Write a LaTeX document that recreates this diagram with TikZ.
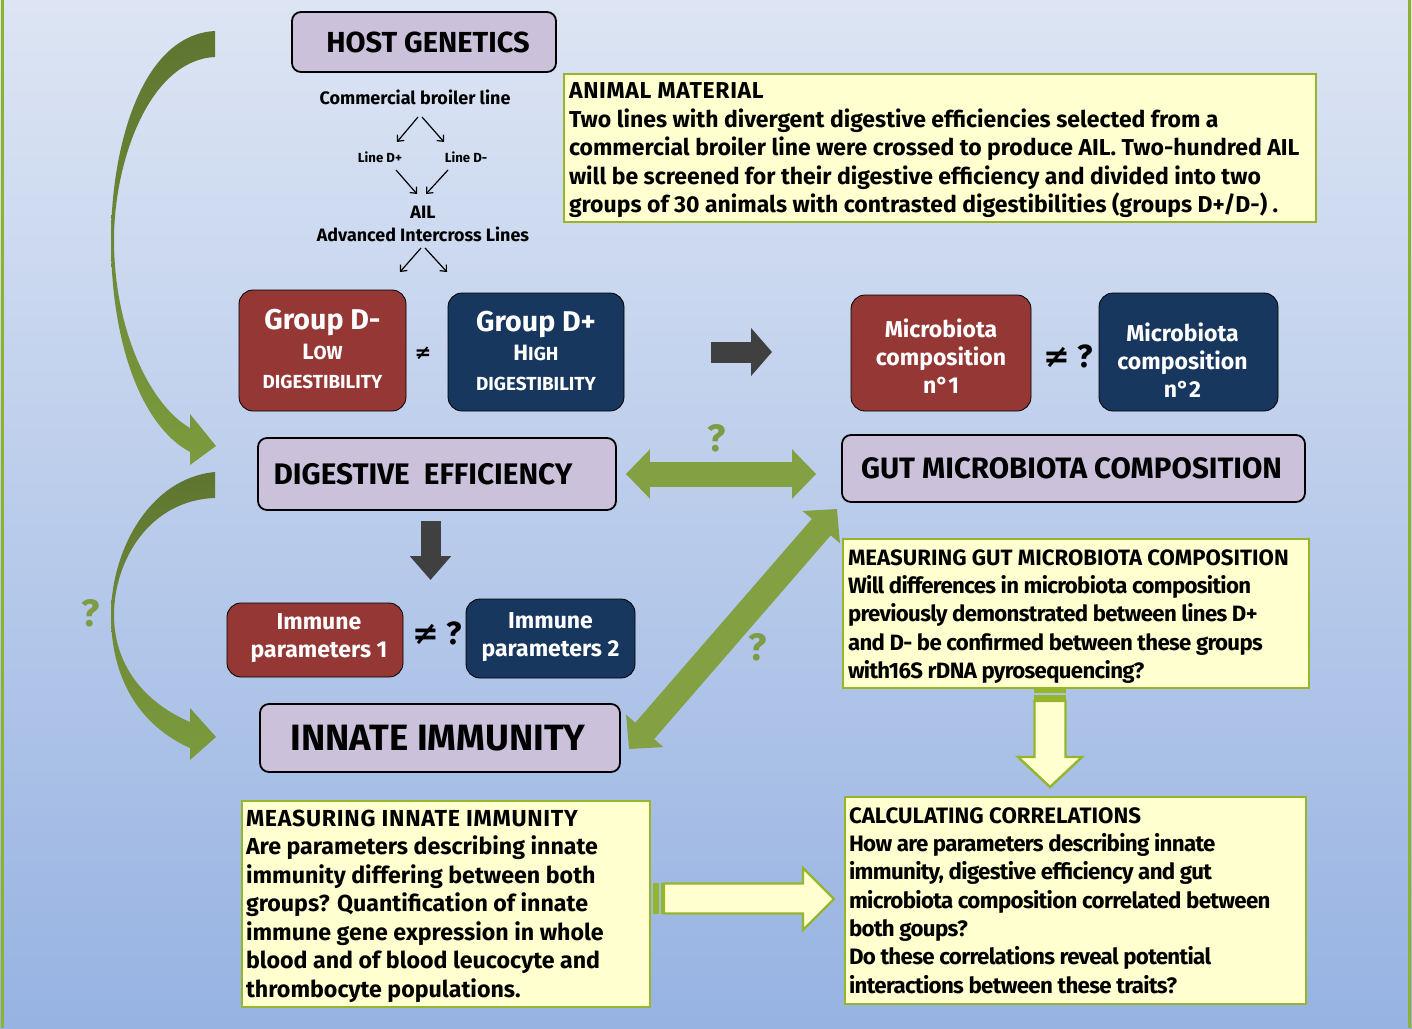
\documentclass[tikz,border=0pt]{standalone}
\usepackage{fontspec}
\setmainfont{Fira Sans}
\newfontfamily\symf{DejaVu Sans}
\newfontfamily\condf{Fira Sans}[LetterSpace=-3]
\newfontfamily\widef{Fira Sans}[LetterSpace=3]
\usetikzlibrary{arrows.meta}
\definecolor{bgtop}{HTML}{DDE5F4}
\definecolor{bgbot}{HTML}{97B3E2}
\definecolor{lav}{HTML}{CCC1DA}
\definecolor{bred}{HTML}{953735}
\definecolor{bnavy}{HTML}{17375E}
\definecolor{ylw}{HTML}{FFFFCF}
\definecolor{ygrn}{HTML}{95B52C}
\definecolor{olv}{HTML}{83A042}
\definecolor{dgrnA}{HTML}{5E7530}
\definecolor{dgrnB}{HTML}{7C9B3D}
\definecolor{qgrn}{HTML}{7E9B45}
\definecolor{darr}{HTML}{404040}
\definecolor{edge}{HTML}{8DB32C}
\newcommand{\fs}[2]{\fontsize{#1}{#2}\selectfont}
\begin{document}
\begin{tikzpicture}[x=1pt,y=-1pt,font=\bfseries,
  lavbox/.style={draw=black,line width=1.8pt,fill=lav,rounded corners=9pt,inner sep=0pt},
  redbox/.style={draw=black,line width=0.8pt,fill=bred,rounded corners=14pt,inner sep=0pt},
  navybox/.style={draw=black,line width=0.8pt,fill=bnavy,rounded corners=14pt,inner sep=0pt},
  wtext/.style={text=white,align=center,inner sep=0pt},
  btext/.style={text=black,inner sep=0pt},
  ybox/.style={draw=ygrn,line width=2.4pt,fill=ylw,inner sep=0pt},
  ytext/.style={anchor=west,align=left,inner sep=0pt},
  smallarr/.style={line width=1.2pt,-{Straight Barb[length=5pt,width=9pt]}},
  gdbl/.style={draw=olv,line width=25pt,{Triangle[width=48pt,length=24pt]}-{Triangle[width=48pt,length=24pt]}},
  darkarr/.style={draw=darr,line width=21pt,-{Triangle[width=47pt,length=21pt]}},
  hollow/.style={fill=ylw,draw=ygrn,line width=2.4pt,line join=miter},
  qmark/.style={text=qgrn,font=\bfseries\fs{38}{38}},
  neq/.style={text=black,font=\bfseries\fs{32}{32}}]
\useasboundingbox (0,0) rectangle (1412,1028);
\shade[top color=bgtop,bottom color=bgbot] (0,0) rectangle (1412,1028);
\fill[edge] (1,0) rectangle (4,1028);
\fill[edge] (1408,0) rectangle (1411,1028);

% curved arrows (left)
\shade[top color=dgrnA,bottom color=dgrnB]
  (215,31) .. controls (140,35) and (111,150) .. (111,240)
  .. controls (111,340) and (140,425) .. (190,452)
  -- (190,465) -- (216,446) -- (190,414) -- (190,428)
  .. controls (150,405) and (114,330) .. (114,240)
  .. controls (114,160) and (150,60) .. (215,57) -- cycle;
\shade[top color=dgrnA,bottom color=dgrnB]
  (215,472) .. controls (150,478) and (111,550) .. (111,615)
  .. controls (111,685) and (145,728) .. (190,748)
  -- (190,760) -- (216,737) -- (190,708) -- (190,722)
  .. controls (150,705) and (114,670) .. (114,615)
  .. controls (114,560) and (150,500) .. (215,498) -- cycle;
\node[qmark] (q1) at (91,613) {?};

% host genetics
\node[lavbox,minimum width=264pt,minimum height=60pt] (host) at (424,42) {};
\node[btext,font=\bfseries\fs{29}{29}] (hostt) at ([xshift=4pt]host.center) {HOST GENETICS};
\node[font=\bfseries\fs{18}{18}] (cbl) at (415,97) {Commercial broiler line};
\node[font=\bfseries\fs{13.2}{13}] (ldp) at (380,157) {Line D+};
\node[font=\bfseries\fs{13.2}{13}] (ldm) at (466,157) {Line D-};
\node[font=\bfseries\fs{18}{18}] (ail) at (423,212) {AIL};
\node[font=\bfseries\fs{17.9}{18}] (adv) at (423,234) {Advanced Intercross Lines};
\coordinate (c1a) at (418,117); \coordinate (c1b) at (397,142);
\coordinate (c2a) at (422,117); \coordinate (c2b) at (444,142);
\coordinate (c3a) at (396,170); \coordinate (c3b) at (417,194);
\coordinate (c4a) at (448,170); \coordinate (c4b) at (426,194);
\coordinate (c5a) at (421,248); \coordinate (c5b) at (400,272);
\coordinate (c6a) at (425,248); \coordinate (c6b) at (447,272);
\draw[smallarr] (c1a) -- (c1b);
\draw[smallarr] (c2a) -- (c2b);
\draw[smallarr] (c3a) -- (c3b);
\draw[smallarr] (c4a) -- (c4b);
\draw[smallarr] (c5a) -- (c5b);
\draw[smallarr] (c6a) -- (c6b);

% animal material
\node[ybox,minimum width=752pt,minimum height=148pt] (am) at (940,148) {};
\node[ytext,font=\bfseries\fs{23}{28.5}] (amt) at ([xshift=6pt,yshift=-2.5pt]am.west)
 {{\widef ANIMAL MATERIAL}\\
  Two lines with divergent digestive efficiencies selected from a\\
  commercial broiler line were crossed to produce AIL. Two-hundred AIL\\
  will be screened for their digestive efficiency and divided into two\\
  groups of 30 animals with contrasted digestibilities (groups D+/D-) .};

% groups
\node[redbox,minimum width=167pt,minimum height=121pt] (gDm) at (322.5,350.5) {};
\node[wtext,font=\bfseries\fs{18.9}{29.5}] (gDmt) at ([yshift=1pt]gDm.center)
 {{\fs{28.6}{29.5}Group D-}\\{\fs{22.2}{29.5}L}OW\\DIGESTIBILITY};
\node[navybox,minimum width=176pt,minimum height=118pt] (gDp) at (536,352) {};
\node[wtext,font=\bfseries\fs{18.9}{29.5}] (gDpt) at ([yshift=1pt]gDp.center)
 {{\fs{28.6}{29.5}Group D+}\\{\fs{22.2}{29.5}H}IGH\\DIGESTIBILITY};
\node[font=\symf\bfseries\fs{20}{20}] (ne1) at (423,353) {≠};
\draw[darkarr,shorten <=87pt,shorten >=79pt] (gDp.east) -- (gDp.east -| 851,0);

\node[redbox,minimum width=180pt,minimum height=116pt] (mc1) at (941,353) {};
\node[wtext,font=\bfseries\fs{23}{28.2}] (mc1t) at ([yshift=-3pt]mc1.center)
 {Microbiota\\composition\\n°1};
\node[navybox,minimum width=179pt,minimum height=118pt] (mc2) at (1188.5,352) {};
\node[wtext,font=\bfseries\fs{23}{28.2}] (mc2t) at ([xshift=-6pt,yshift=-8pt]mc2.center)
 {Microbiota\\composition\\n°2};
\node[neq] (ne2) at (1068,356) {{\symf ≠} ?};

% main boxes
\node[lavbox,minimum width=358pt,minimum height=72pt] (de) at (437,474) {};
\node[btext,font=\bfseries\fs{29.7}{30}] (det) at ([xshift=-14pt]de.center) {DIGESTIVE\ \ EFFICIENCY};
\node[lavbox,minimum width=463pt,minimum height=67pt] (gmc) at (1073.5,468.5) {};
\node[btext,font=\bfseries\fs{29.5}{30}] (gmct) at ([xshift=-2pt]gmc.center) {GUT MICROBIOTA COMPOSITION};
\node[lavbox,minimum width=360pt,minimum height=68pt] (ii) at (440,738) {};
\node[btext,font=\bfseries\fs{36.6}{37}] (iit) at ([xshift=-2pt]ii.center) {INNATE IMMUNITY};

% green double arrows
\draw[gdbl,shorten <=9pt,shorten >=25pt] (de.east) -- (de.east -| gmc.west);
\node[qmark] (q2) at (717,438) {?};
\coordinate (dgl) at (629,749);
\coordinate (dgu) at (837,509);
\draw[gdbl] (dgl) -- (dgu);
\node[qmark] (q3) at (758,647) {?};

% dark down arrow
\coordinate (da1) at (430.5,521);
\coordinate (da2) at (430.5,580);
\draw[draw=darr,line width=20pt,-{Triangle[width=40pt,length=24pt]}] (da1) -- (da2);

% immune parameters
\node[redbox,minimum width=176pt,minimum height=74pt] (ip1) at (315,640) {};
\node[wtext,font=\bfseries\fs{23}{28}] (ip1t) at ([xshift=4pt,yshift=2pt]ip1.center)
 {Immune\\parameters 1};
\node[navybox,minimum width=169pt,minimum height=79pt] (ip2) at (550.5,638.5) {};
\node[wtext,font=\bfseries\fs{23}{28}] (ip2t) at ([yshift=1pt]ip2.center)
 {Immune\\parameters 2};
\node[neq] (ne3) at (437,633) {{\symf ≠} ?};

% measuring gut
\node[ybox,minimum width=466pt,minimum height=149pt] (mg) at (1076,613.5) {};
\node[ytext,font=\condf\bfseries\fs{22.2}{28.3}] (mgt) at ([xshift=6pt,yshift=-3pt]mg.west)
 {{\normalfont\bfseries MEASURING GUT MICROBIOTA COMPOSITION}\\
  Will differences in microbiota composition\\
  previously demonstrated between lines D+\\
  and D- be confirmed between these groups\\
  with16S rDNA pyrosequencing?};

% hollow down arrow
\fill[ygrn] (1034,688) rectangle (1066,693);
\fill[ygrn] (1034,695) rectangle (1066,700);
\draw[hollow] (1034.5,701) -- (1065.5,701) -- (1065.5,757) -- (1082,757) -- (1050,787)
  -- (1018,757) -- (1034.5,757) -- cycle;

% calculating correlations
\node[ybox,minimum width=461pt,minimum height=207pt] (cc) at (1075.5,900.5) {};
\node[ytext,font=\condf\bfseries\fs{22.3}{28.3}] (cct) at ([xshift=5pt]cc.west)
 {{\normalfont\bfseries CALCULATING CORRELATIONS}\\
  How are parameters describing innate\\
  immunity, digestive efficiency and gut\\
  microbiota composition correlated between\\
  both goups?\\
  Do these correlations reveal potential\\
  interactions between these traits?};

% measuring innate immunity
\node[ybox,minimum width=408pt,minimum height=206pt] (mi) at (446,904) {};
\node[ytext,font=\bfseries\fs{23.2}{28.5}] (mit) at ([xshift=5pt,yshift=-2pt]mi.west)
 {{\widef MEASURING INNATE IMMUNITY}\\
  Are parameters describing innate\\
  immunity differing between both\\
  groups? Quantification of innate\\
  immune gene expression in whole\\
  blood and of blood leucocyte and\\
  thrombocyte populations.};

% hollow right arrow
\fill[ygrn] (653,883) rectangle (658.5,914);
\fill[ygrn] (660.5,883) rectangle (663,914);
\draw[hollow] (664,883.5) -- (803,883.5) -- (803,868) -- (834,899) -- (803,930)
  -- (803,913.5) -- (664,913.5) -- cycle;
\end{tikzpicture}
\end{document}
